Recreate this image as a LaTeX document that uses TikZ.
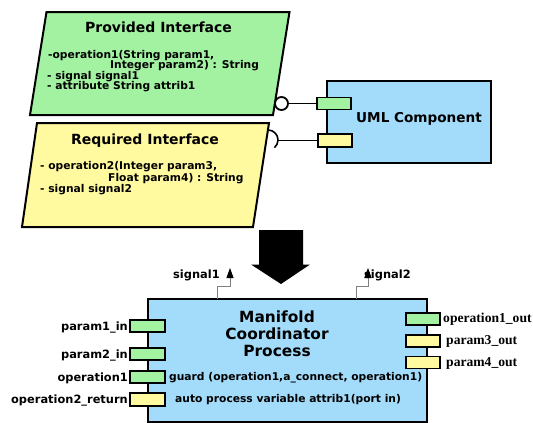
\documentclass[tikz,border=0pt]{standalone}
\usepackage{fontspec}
\setmainfont{DejaVu Sans}
\newfontfamily\serifb{Liberation Serif}
\usetikzlibrary{arrows.meta}
\definecolor{pgreen}{HTML}{A2F2A2}
\definecolor{pyellow}{HTML}{FFFA9F}
\definecolor{pblue}{HTML}{A3DCFA}
\begin{document}
\begin{tikzpicture}[x=1pt,y=-1pt,
  box/.style={draw=black, line width=2pt, line join=miter},
  port/.style={draw=black, line width=1.9pt, minimum width=34pt, minimum height=12pt, inner sep=0pt, outer sep=0pt},
  gport/.style={port, fill=pgreen},
  yport/.style={port, fill=pyellow},
  body/.style={inner sep=0pt, font=\bfseries\fontsize{10.7}{12}\selectfont, anchor=base west},
  ttl/.style={inner sep=0pt, font=\bfseries\fontsize{14}{16}\selectfont, anchor=base},
  lbl/.style={inner sep=0pt, font=\bfseries\fontsize{11.4}{13}\selectfont},
  rlbl/.style={inner sep=0pt, font=\serifb\bfseries\fontsize{13.6}{15}\selectfont, anchor=base west},
  conn/.style={draw=black, line width=1.6pt},
  sig/.style={draw=gray, line width=0.9pt, -{Triangle[black,width=7pt,length=10pt]}}
]
\useasboundingbox (0,0) rectangle (533,423);

% Provided interface
\path[box, fill=pgreen] (46.5,12) -- (289.5,12) -- (273,115) -- (30,115) -- cycle;
\node[ttl] (pttl) at (158.5,32) {Provided Interface};
\node[body] (p1) at (48,58) {-operation1(String param1,};
\node[body] (p2) at (110,68.5) {Integer param2) : String};
\node[body] (p3) at (47,79) {- signal signal1};
\node[body] (p4) at (47,89.5) {- attribute String attrib1};

% Required interface
\path[box, fill=pyellow] (37,123) -- (269,123) -- (253,227) -- (22,227) -- cycle;
\node[ttl] (rttl) at (145,144) {Required Interface};
\node[body] (r1) at (40,169.5) {- operation2(Integer param3,};
\node[body] (r2) at (108,181.5) {Float param4) : String};
\node[body] (r3) at (40,192.5) {- signal signal2};

% UML component
\node[box, fill=pblue, minimum width=164pt, minimum height=82pt, inner sep=0pt] (uml) at (409,122) {};
\node[inner sep=0pt, font=\bfseries\fontsize{13.6}{15}\selectfont, anchor=base] (umlt) at (419,122) {UML Component};
\node[gport] (pg) at (334,103.5) {};
\node[yport, minimum height=13pt] (py) at (335,140.5) {};

% lollipop and socket
\node[circle, draw=black, line width=1.8pt, fill=white, minimum size=13pt, inner sep=0pt] (lol) at (281.5,103.5) {};
\draw[conn] (lol.east) -- (pg.west);
\coordinate (sockt) at (268,130);
\coordinate (sockr) at (278,140.5);
\draw[conn] (sockt) arc[start angle=-90, end angle=50, radius=10];
\draw[conn] (sockr) -- (sockr -| py.west);

% big arrow
\path[fill=black] (259,230) -- (303,230) -- (303,264.5) -- (310,264.5) -- (281,284) -- (251,264.5) -- (259,264.5) -- cycle;

% Manifold coordinator process
\node[box, fill=pblue, minimum width=279pt, minimum height=123pt, inner sep=0pt] (mcp) at (287.5,360.5) {};
\node[inner sep=0pt, font=\bfseries\fontsize{15.4}{17}\selectfont, anchor=base] (m1) at (277,322.5) {Manifold};
\node[inner sep=0pt, font=\bfseries\fontsize{15.4}{17}\selectfont, anchor=base] (m2) at (277,339.5) {Coordinator};
\node[inner sep=0pt, font=\bfseries\fontsize{15.4}{17}\selectfont, anchor=base] (m3) at (277,356.5) {Process};
\node[body] (g1) at (169,380) {guard (operation1,a\_connect, operation1)};
\node[body] (g2) at (175,402) {auto process variable attrib1(port in)};

% left ports
\node[gport, minimum width=35pt] (lp1) at (147.5,326) {};
\node[gport, minimum width=35pt] (lp2) at (147.5,354) {};
\node[gport, minimum width=35pt] (lp3) at (147.5,377) {};
\node[yport, minimum width=35pt, minimum height=13pt] (lp4) at (147.5,399.5) {};
\node[lbl, anchor=base east] (l1) at (128,330) {param1\_in};
\node[lbl, anchor=base east] (l2) at (128,358) {param2\_in};
\node[lbl, anchor=base east] (l3) at (128,381) {operation1};
\node[lbl, anchor=base east] (l4) at (128,403.5) {operation2\_return};

% right ports
\node[gport] (rp1) at (423,319) {};
\node[yport] (rp2) at (423,341) {};
\node[yport] (rp3) at (423,362.5) {};
\node[rlbl] (o1) at (443,322.5) {operation1\_out};
\node[rlbl] (o2) at (446,344.5) {param3\_out};
\node[rlbl] (o3) at (446,366) {param4\_out};

% signals
\node[lbl, anchor=base west] (s1) at (173,278) {signal1};
\node[lbl, anchor=base west] (s2) at (364,278) {signal2};
\coordinate (s1a) at (217,299);
\coordinate (s1b) at (230,268);
\coordinate (s2a) at (356,299);
\coordinate (s2b) at (368,268);
\draw[sig] (s1a) -- ++(0,-13) -| (s1b);
\draw[sig] (s2a) -- ++(0,-13) -| (s2b);
\end{tikzpicture}
\end{document}
